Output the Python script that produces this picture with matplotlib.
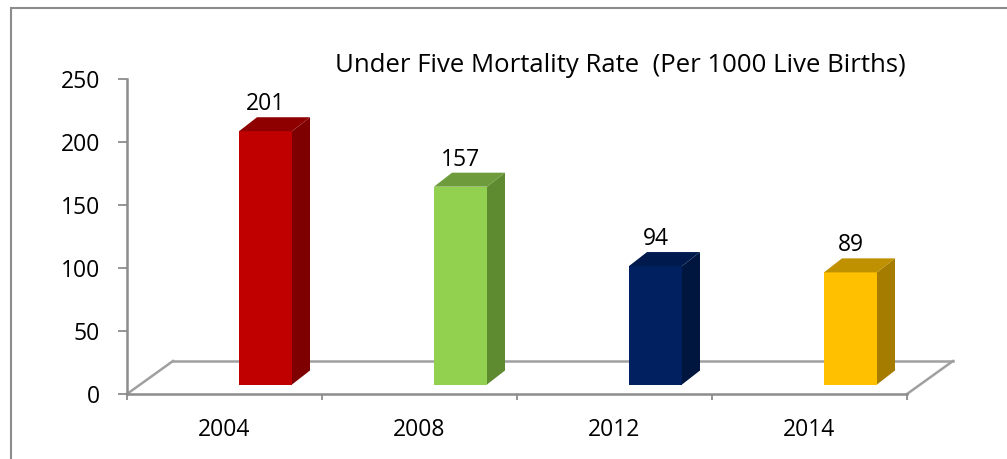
import matplotlib
matplotlib.use("Agg")
import matplotlib.pyplot as plt
from matplotlib.patches import Polygon, Rectangle
from matplotlib.lines import Line2D

years = ["2004", "2008", "2012", "2014"]
rates = [201, 157, 94, 89]
front_colors = ["#C00000", "#92D050", "#002060", "#FFC000"]
side_colors = ["#7F0000", "#5E8A30", "#00163F", "#A67C00"]
top_colors = ["#8E0000", "#6E9B3C", "#001A4E", "#BF9000"]
title = "Under Five Mortality Rate  (Per 1000 Live Births)"

plt.rcParams['font.family'] = ['Open Sans', 'DejaVu Sans']
W, H = 1007, 459
fig = plt.figure(figsize=(W / 100, H / 100), dpi=100)
fig.patch.set_facecolor("white")

# outer frame
fig.patches.append(Rectangle((11 / W, -0.2), 1.2, 1.2 - 8 / H,
                             transform=fig.transFigure, fill=False,
                             edgecolor="#8C8C8C", linewidth=1.5, zorder=0))

ax_left, ax_right = 127, 907
ax_bot, ax_top = 394, 79
ax = fig.add_axes([ax_left / W, (H - ax_bot) / H, (ax_right - ax_left) / W, (ax_bot - ax_top) / H])
ax.set_xlim(-0.5, len(years) - 0.5)
ax.set_ylim(0, 250)
ax.set_facecolor("none")

px_x = (len(years)) / (ax_right - ax_left)   # data units per pixel (x)
px_y = 250 / (ax_bot - ax_top)               # data units per pixel (y)

# floor (3D platform)
fdx, fdy = 46 * px_x, 33 * px_y
gray = "#A0A0A0"
x0, x1 = -0.5, len(years) - 0.5
for xs, ys in [([x0, x0 + fdx], [0, fdy]),
               ([x1, x1 + fdx], [0, fdy]),
               ([x0 + fdx, x1 + fdx], [fdy, fdy])]:
    ax.add_line(Line2D(xs, ys, color=gray, lw=1.8, clip_on=False, zorder=1))

# bars
off = 112 * px_x
bw = 53 * px_x
base = 9.5 * px_y
ddx, ddy = 18 * px_x, 14 * px_y
for i, (v, fc, sc, tc) in enumerate(zip(rates, front_colors, side_colors, top_colors)):
    xl = i - 0.5 + off
    xr = xl + bw
    yb = base
    yt = base + v
    front = Polygon([(xl, yb), (xr, yb), (xr, yt), (xl, yt)], closed=True,
                    facecolor=fc, edgecolor="none", clip_on=False, zorder=3)
    side = Polygon([(xr, yb), (xr + ddx, yb + ddy), (xr + ddx, yt + ddy), (xr, yt)], closed=True,
                   facecolor=sc, edgecolor="none", clip_on=False, zorder=3)
    top = Polygon([(xl, yt), (xr, yt), (xr + ddx, yt + ddy), (xl + ddx, yt + ddy)], closed=True,
                  facecolor=tc, edgecolor="none", clip_on=False, zorder=3)
    for p in (front, side, top):
        ax.add_patch(p)
    ax.text((xl + xr) / 2, yt + 27 * px_y, str(v), ha="center", va="center",
            fontsize=16.5, color="black", zorder=4)

# axes styling
for s in ("top", "right"):
    ax.spines[s].set_visible(False)
for s in ("left", "bottom"):
    ax.spines[s].set_color("#8C8C8C")
    ax.spines[s].set_linewidth(1.8)

ax.set_yticks(range(0, 251, 50))
ax.tick_params(axis="y", direction="out", length=6.5, width=1.3, color="#8C8C8C",
               labelsize=16.5, pad=13)
ax.set_xticks([i - 0.5 for i in range(len(years) + 1)])
ax.set_xticklabels([])
ax.set_xticks(range(len(years)), minor=True)
ax.set_xticklabels(years, minor=True)
ax.tick_params(axis="x", which="major", direction="out", length=4.5, width=1.3, color="#8C8C8C")
ax.tick_params(axis="x", which="minor", length=0, labelsize=16.5, pad=17)

ax.text((620.5 - ax_left) / (ax_right - ax_left), (ax_bot - 66) / (ax_bot - ax_top), title,
        transform=ax.transAxes, ha="center", va="center", fontsize=18.5, color="black")

fig.savefig("out.png", dpi=100)
